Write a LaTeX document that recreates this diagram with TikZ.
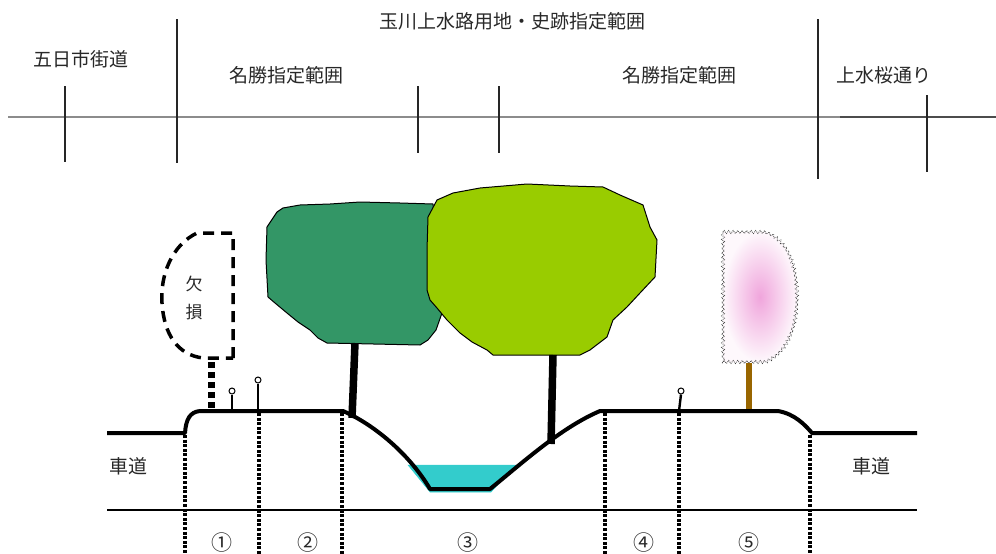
\documentclass[tikz,border=0pt]{standalone}
\usepackage{fontspec}
\newfontfamily\jp{Noto Sans CJK JP}
\usetikzlibrary{decorations.pathmorphing}
\definecolor{txt}{RGB}{40,40,40}
\definecolor{darkcrown}{RGB}{51,150,102}
\definecolor{lightcrown}{RGB}{153,204,0}
\definecolor{water}{RGB}{51,204,204}
\definecolor{trunkbrown}{RGB}{153,102,0}
\definecolor{blossom}{RGB}{240,165,220}
\tikzset{
  label/.style={font=\jp\fontsize{19}{22}\selectfont, text=txt, inner sep=0pt},
  small/.style={font=\jp\fontsize{17}{19}\selectfont, text=txt, inner sep=0pt},
  num/.style={font=\jp\fontsize{21}{23}\selectfont, text=txt, inner sep=0pt},
  divider/.style={line width=1.3pt, black!85},
  baseline/.style={line width=2pt, black!45},
  ground/.style={line width=4pt, black, line join=round},
  boundary/.style={line width=3.8pt, black, dash pattern=on 3pt off 1.6pt},
  crown/.style={draw=black, line width=1pt, line join=round},
  pole/.style={line width=2.4pt, black},
  lamp/.style={draw=black, fill=white, line width=1pt, circle, minimum size=6pt, inner sep=0pt},
}
\begin{document}
\begin{tikzpicture}[x=1pt, y=-1pt]
\useasboundingbox (0,0) rectangle (996,554);

% ---------- upper band: land-use ranges ----------
\draw[baseline] (8,117) -- (840,117);
\draw[line width=2pt, black!70] (840,117) -- (996,117);
\draw[divider] (65,86) -- (65,162);
\draw[divider] (177,19) -- (177,163);
\draw[divider] (418,86) -- (418,153);
\draw[divider] (499,86) -- (499,153);
\draw[divider] (818,19) -- (818,179);
\draw[divider] (927,95) -- (927,172);

\node[label] (itsuka) at (81,59) {五日市街道};
\node[label] (title) at (512,21) {玉川上水路用地・史跡指定範囲};
\node[label] (meisho1) at (286,75) {名勝指定範囲};
\node[label] (meisho2) at (679,75) {名勝指定範囲};
\node[label] (sakura) at (884,75) {上水桜通り};

% ---------- tree crowns ----------
\draw[crown, fill=darkcrown]
  (277,212) -- (283,208) -- (300,205) -- (330,204) -- (360,202) -- (400,203) -- (433,204)
  -- (440,260) -- (443,300) -- (442,313) -- (436,330) -- (428,340) -- (420,345)
  -- (327,343) -- (318,338) -- (310,330) -- (298,322) -- (287,313) -- (275,303) -- (268,297)
  -- (266,260) -- (267,227) -- cycle;
\draw[crown, fill=lightcrown]
  (437,200) -- (453,193) -- (480,188) -- (527,184) -- (570,186) -- (603,187) -- (620,195)
  -- (643,205) -- (650,227) -- (657,240) -- (655,277) -- (640,293) -- (627,307)
  -- (613,320) -- (607,337) -- (590,350) -- (580,355) -- (493,355) -- (487,350)
  -- (472,342) -- (460,333) -- (447,320) -- (437,308) -- (430,300) -- (427,290)
  -- (427,250) -- (428,217) -- cycle;

% ---------- cherry tree ----------
\shade[inner color=blossom, outer color=blossom!8]
  (723,232) -- (765,232) .. controls (790,240) and (797,270) .. (797,297)
  .. controls (797,330) and (785,355) .. (765,362) -- (723,362) -- cycle;
\draw[black!75, line width=0.8pt, densely dotted,
      decorate, decoration={zigzag, amplitude=1.5pt, segment length=4.5pt}]
  (723,232) -- (765,232) .. controls (790,240) and (797,270) .. (797,297)
  .. controls (797,330) and (785,355) .. (765,362) -- (723,362) -- cycle;
\coordinate (cherrytop) at (749,363);
\coordinate (cherrybase) at (749,410);
\draw[line width=6pt, trunkbrown] (cherrytop) -- (cherrybase);

% ---------- trunks ----------
\coordinate (darktop) at (355,343);
\coordinate (darkbase) at (352,418);
\coordinate (lighttop) at (553,355);
\coordinate (lightbase) at (551,444);
\draw[line width=7.5pt] (darktop) -- (darkbase);
\draw[line width=7.5pt] (lighttop) -- (lightbase);

% ---------- water in the channel ----------
\draw[water, fill=water, line width=0.5pt]
  (408,465) -- (516,465) -- (491,492) -- (430,492) -- cycle;

% ---------- ground profile ----------
\draw[ground]
  (107,433) -- (185,433) .. controls (186,419) and (190,412) .. (200,411)
  -- (343,411)
  .. controls (375,425) and (410,455) .. (430,489)
  -- (490,489)
  .. controls (520,465) and (560,428) .. (600,411)
  -- (778,411) .. controls (795,414) and (805,425) .. (812,433)
  -- (917,433);
\draw[line width=2.6pt] (107,510) -- (917,510);

% ---------- missing section (dashed outline) ----------
\draw[line width=3.5pt, dash pattern=on 11pt off 7pt]
  (233,358) -- (233,233) -- (197,233)
  .. controls (172,245) and (160,275) .. (162,303)
  .. controls (164,335) and (178,355) .. (203,358) -- cycle;
\node[small] (ketsu) at (194,284) {欠};
\node[small] (son) at (194,312) {損};
\coordinate (gaptop) at (211,362);
\coordinate (gapbase) at (211,410);
\draw[line width=7pt, dash pattern=on 6pt off 4pt] (gaptop) -- (gapbase);

% ---------- small posts with lamps ----------
\node[lamp] (lampA) at (232,391) {};
\node[lamp] (lampB) at (258,380) {};
\node[lamp] (lampC) at (681,391) {};
\coordinate (postA) at (232,411);
\coordinate (postB) at (258,411);
\coordinate (postC) at (679,411);
\draw[pole] (lampA) -- (postA);
\draw[pole] (lampB) -- (postB);
\draw[pole] (lampC.south) -- (postC);

% ---------- section boundaries ----------
\draw[boundary] (185,435) -- (185,554);
\draw[boundary] (259,413) -- (259,554);
\draw[boundary] (342,413) -- (342,554);
\draw[boundary] (605,413) -- (605,554);
\draw[boundary] (679,413) -- (679,554);
\draw[boundary] (810,435) -- (810,554);

% ---------- labels ----------
\node[label] (roadL) at (128,466) {車道};
\node[label] (roadR) at (871,466) {車道};
\node[num] (n1) at (222,543) {①};
\node[num] (n2) at (308,543) {②};
\node[num] (n3) at (468,543) {③};
\node[num] (n4) at (644,543) {④};
\node[num] (n5) at (749,543) {⑤};
\end{tikzpicture}
\end{document}
